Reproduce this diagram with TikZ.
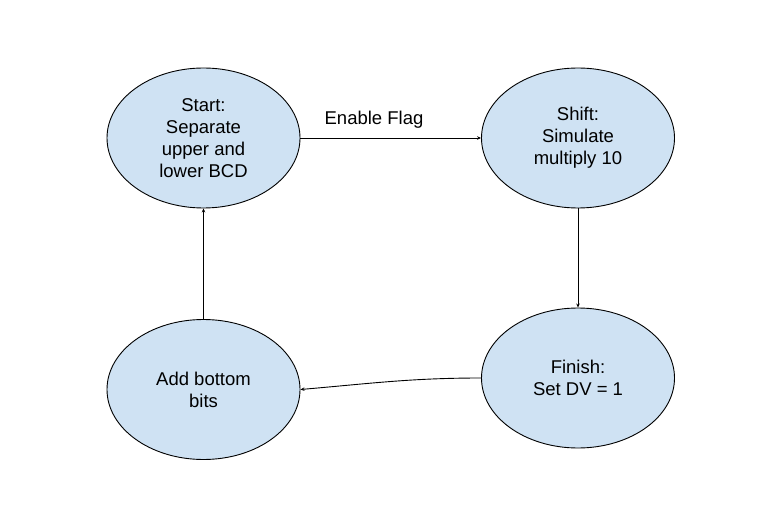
\documentclass[tikz,border=0pt]{standalone}
\usepackage{fontspec}
\setmainfont{Liberation Sans}
\usetikzlibrary{shapes.geometric,arrows.meta}
\definecolor{stfill}{HTML}{CFE2F3}
\tikzset{
  state/.style={ellipse, draw=black, line width=0.9pt, fill=stfill, minimum width=193pt, minimum height=140pt, inner sep=0pt, align=center, font=\fontsize{18.5pt}{22pt}\selectfont},
  conn/.style={line width=0.9pt, -{Stealth[length=4pt,width=3.5pt]}},
  lbl/.style={font=\fontsize{18.5pt}{22pt}\selectfont, inner sep=0pt}
}
\begin{document}
\begin{tikzpicture}[x=1pt,y=-1pt]
\useasboundingbox (0,0) rectangle (781,521);
\node[state] (start) at (203.5,138) {Start:\\Separate\\upper and\\lower BCD};
\node[state] (shift) at (578,138) {Shift:\\Simulate\\multiply 10};
\node[state] (fin) at (578,378) {Finish:\\Set DV = 1};
\node[state] (add) at (203.5,389.5) {Add bottom\\bits};
\draw[conn] (start.east) -- (shift.west);
\node[lbl] (ef) at (374,120) {Enable Flag};
\draw[conn] (shift.south) -- (fin.north);
\draw[conn] (fin.west) .. controls +(-70,0) and +(70,-6) .. (add.east);
\draw[conn] (add.north) -- (start.south);
\end{tikzpicture}
\end{document}
